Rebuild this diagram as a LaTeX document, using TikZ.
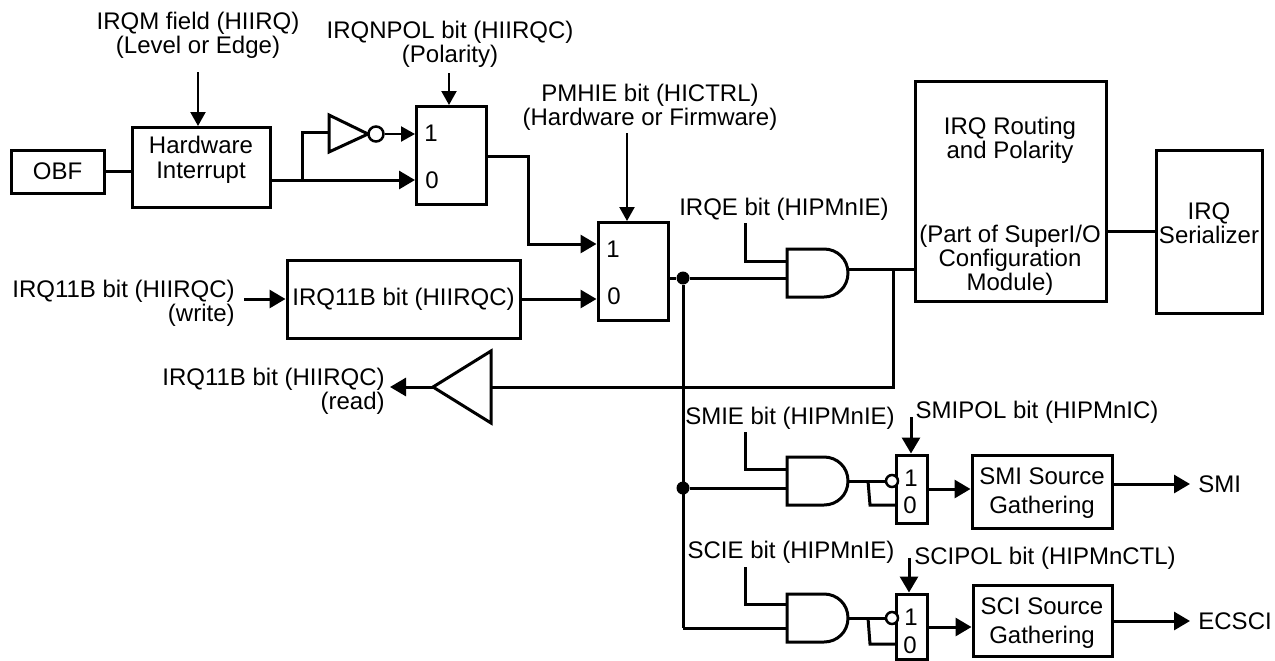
\documentclass[tikz,border=0pt]{standalone}
\usepackage{fontspec}
\setmainfont{Liberation Sans}
\usetikzlibrary{arrows.meta,calc}

\tikzset{
	wire/.style={line width=1.5pt},
	thinwire/.style={line width=1.1pt},
	bigtip/.style={-{Triangle[length=8pt,width=9pt]}},
	smalltip/.style={-{Triangle[length=7pt,width=7.5pt]}},
	blockbox/.style={draw, line width=1.5pt, inner sep=0pt, align=center, font=\fontsize{12}{12}\selectfont},
	textlabel/.style={inner sep=0pt, align=center, font=\fontsize{12}{12}\selectfont},
	bubble/.style={draw, circle, fill=white, line width=1.25pt, inner sep=0pt},
	dotjoin/.style={fill, circle, inner sep=0pt, minimum size=6.5pt},
	andgate/.pic={
		\draw[wire] (0,0) -- (37,0) .. controls (50,0) and (61,10) .. (61,24)
			.. controls (61,38) and (50,48) .. (37,48) -- (0,48) -- cycle;
		\coordinate (-w) at (0,24);
		\coordinate (-e) at (61,24);
	}
}

\begin{document}
\begin{tikzpicture}[x=0.5pt,y=-0.5pt]
	\useasboundingbox (0,0) rectangle (1275,660);

	% top left blocks
	\node[blockbox, minimum width=46.5pt, minimum height=21.5pt] (obf) at (57.5,171.5) {OBF};
	\node[blockbox, minimum width=69pt, minimum height=40pt] (hwint) at (201,167.5) {};
	\node[textlabel] (hwtext) at (201,160) {Hardware\\[0.5pt]Interrupt};
	\node[blockbox, minimum width=35pt, minimum height=49pt] (muxa) at (451.5,155.5) {};
	\node[textlabel] (muxa1) at (431,133) {1};
	\node[textlabel] (muxa0) at (432,180) {0};
	\node[textlabel] (irqmlabel) at (198,35) {IRQM field (HIIRQ)\\(Level or Edge)};
	\node[textlabel] (polabel) at (450,44) {IRQNPOL bit (HIIRQC)\\(Polarity)};
	\coordinate (irqmstart) at (198,72);
	\coordinate (polstart) at (449,73);
	\draw[thinwire, smalltip] (irqmstart) -- (hwint.north -| irqmstart);
	\draw[thinwire, smalltip] (polstart) -- (muxa.north -| polstart);
	\draw[wire] (obf.east) -- ($(hwint.west |- obf.east)+(3,0)$);

	% inverter
	\coordinate (invtop) at (329,115);
	\coordinate (invbot) at (329,152);
	\coordinate (invtip) at (368,134);
	\draw[wire] (invtop) -- (invtip) -- (invbot) -- cycle;
	\node[bubble, minimum size=7.5pt] (invdot) at (376,134) {};
	\coordinate (hwout) at (270,180);
	\coordinate (branchup) at (302,180);
	\draw[wire, bigtip] (hwout) -- (muxa.west |- hwout);
	\draw[wire] (branchup) |- (329,132);
	\draw[thinwire, smalltip] (invdot.east) -- (muxa.west |- invdot);

	% second mux and register
	\node[blockbox, minimum width=35pt, minimum height=49pt] (muxb) at (633,271.5) {};
	\node[textlabel] (muxb1) at (613,249) {1};
	\node[textlabel] (muxb0) at (614,296) {0};
	\node[textlabel] (pmlabel) at (650,107) {PMHIE bit (HICTRL)\\(Hardware or Firmware)};
	\coordinate (pmstart) at (627,133);
	\draw[thinwire, smalltip] (pmstart) -- (muxb.north -| pmstart);
	\draw[wire, bigtip] (muxa.east |- 0,156) -| (528,244) -- (muxb.west |- 0,244);
	\node[blockbox, minimum width=116.5pt, minimum height=39pt] (regbox) at (403.5,299) {IRQ11B bit (HIIRQC)};
	\node[textlabel, anchor=east, align=right] (writelabel) at (235,303) {IRQ11B bit (HIIRQC)\\(write)};
	\draw[wire, bigtip] (writelabel.east |- regbox.west) ++(9,0) coordinate (writestart) -- (regbox.west);
	\draw[wire, bigtip] (regbox.east) -- (muxb.west |- regbox.east);

	% main gate, routing and serializer
	\pic (gatea) at (787,249) {andgate};
	\node[textlabel] (irqelabel) at (784,209) {IRQE bit (HIPMnIE)};
	\node[dotjoin] (busdot) at (683,278) {};
	\coordinate (irqedrop) at (745,223);
	\draw[wire] (muxb.east |- busdot) -- (busdot) -- (busdot -| gatea-w);
	\draw[wire] (irqedrop) |- (787,261);
	\node[blockbox, minimum width=95.5pt, minimum height=110pt] (route) at (1010.5,191) {};
	\node[textlabel] (routetop) at (1010,140) {IRQ Routing\\and Polarity};
	\node[textlabel] (routebot) at (1010,260) {(Part of SuperI/O\\Configuration\\Module)};
	\node[blockbox, minimum width=53pt, minimum height=81.5pt] (serial) at (1209,231.5) {};
	\node[textlabel] (serialtext) at (1209,223) {IRQ\\Serializer};
	\coordinate (readjoin) at (893,269);
	\draw[wire] (gatea-e |- readjoin) -- (route.west |- readjoin);
	\draw[wire] (route.east |- serial) -- (serial.west);

	% read back buffer
	\coordinate (buftip) at (433,387);
	\coordinate (buftop) at (491,351);
	\coordinate (bufbot) at (491,423);
	\draw[wire] (buftip) -- (buftop) -- (bufbot) -- cycle;
	\node[textlabel, anchor=east, align=right] (readlabel) at (385,391) {IRQ11B bit (HIIRQC)\\(read)};
	\draw[wire] (readjoin) |- (buftop |- buftip);
	\draw[wire, bigtip] (buftip) -- (390,387);

	% SMI row
	\pic (gateb) at (787,457) {andgate};
	\node[dotjoin] (smidot) at (683,488) {};
	\coordinate (busend) at (683,628);
	\draw[wire] (busdot) -- (busend);
	\draw[wire] (smidot) -- (smidot -| gateb-w);
	\node[textlabel] (smielabel) at (790,418) {SMIE bit (HIPMnIE)};
	\node[textlabel] (smipollabel) at (1037,412) {SMIPOL bit (HIPMnIC)};
	\coordinate (smiedrop) at (745,432);
	\draw[wire] (smiedrop) |- (787,469);
	\node[blockbox, minimum width=15.5pt, minimum height=34pt] (muxc) at (911.5,489) {};
	\node[textlabel] (muxc1) at (911,478) {1};
	\node[textlabel] (muxc0) at (910,505) {0};
	\coordinate (smipolstart) at (911,417);
	\draw[wire, bigtip] (smipolstart) -- (muxc.north -| smipolstart);
	\node[bubble, minimum size=6pt] (smibub) at (892,481) {};
	\draw[wire] (gateb-e) -- (smibub.west);
	\draw[wire] (868,481) -- (870,505) -- (897,505);
	\node[blockbox, minimum width=70pt, minimum height=36.5pt] (smibox) at (1042,491.5) {};
	\node[textlabel] (smitext) at (1042,493) {SMI Source\\[2.5pt]Gathering};
	\draw[wire, bigtip] (muxc.east) -- (smibox.west |- muxc.east);
	\node[textlabel, anchor=west] (smiout) at (1198,484) {SMI};
	\draw[wire, bigtip] (smibox.east |- smiout) -- (smiout.west -| 1190,0);

	% SCI row
	\pic (gatec) at (787,594) {andgate};
	\draw[wire] (busend) -- (busend -| gatec-w);
	\node[textlabel] (sciwlabel) at (791,552) {SCIE bit (HIPMnIE)};
	\node[textlabel] (scipollabel) at (1045,558) {SCIPOL bit (HIPMnCTL)};
	\coordinate (sciedrop) at (745,567);
	\draw[wire] (sciedrop) |- (787,604);
	\node[blockbox, minimum width=15.5pt, minimum height=32.5pt] (muxd) at (911.5,626.5) {};
	\node[textlabel] (muxd1) at (911,617) {1};
	\node[textlabel] (muxd0) at (910,645) {0};
	\coordinate (scipolstart) at (909,558);
	\draw[wire, bigtip] (scipolstart) -- (muxd.north -| scipolstart);
	\node[bubble, minimum size=6pt] (scibub) at (892,618) {};
	\draw[wire] (gatec-e) -- (scibub.west);
	\draw[wire] (868,618) -- (870,644) -- (897,644);
	\node[blockbox, minimum width=69.5pt, minimum height=35.5pt] (scibox) at (1042.5,620.5) {};
	\node[textlabel] (scitext) at (1042,623) {SCI Source\\[2.5pt]Gathering};
	\draw[wire, bigtip] (muxd.east |- 0,627) -- (scibox.west |- 0,627);
	\node[textlabel, anchor=west] (sciout) at (1198,621) {ECSCI};
	\draw[wire, bigtip] (scibox.east |- sciout) -- (sciout.west -| 1190,0);
\end{tikzpicture}
\end{document}
